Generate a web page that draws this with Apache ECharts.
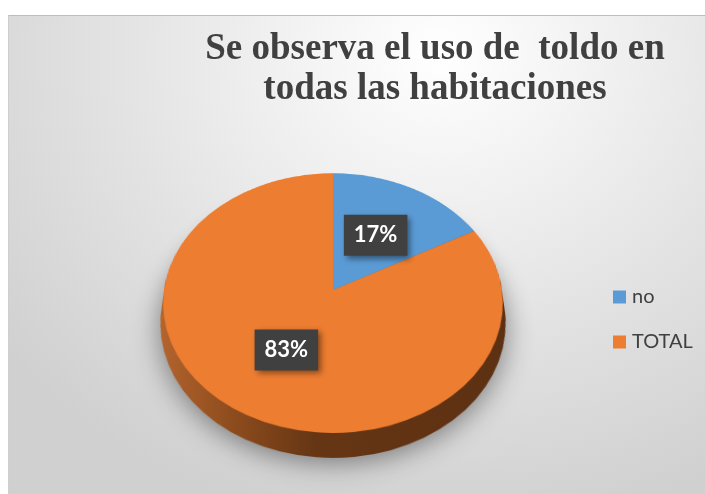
<!DOCTYPE html>
<html><head><meta charset="utf-8">
<script src="https://cdn.jsdelivr.net/npm/echarts@6/dist/echarts.min.js"></script>
<style>
html,body{margin:0;padding:0;width:705px;height:494px;overflow:hidden;background:#fff;}
#bg{position:absolute;left:8px;top:15px;width:697px;height:479px;box-sizing:border-box;border-top:1px solid #bdbdbd;border-left:1px solid #cfcfcf;
background:radial-gradient(ellipse 80% 100% at 62% 8%, #ffffff 0%, #f3f3f3 25%, #e2e2e2 60%, #d0d0d0 100%);}
#pie{position:absolute;left:0;top:0;width:705px;height:560px;transform-origin:333px 290px;transform:perspective(1083px) rotateX(40.5deg);}
#top{position:absolute;left:0;top:0;width:705px;height:494px;}
</style></head>
<body>
<div id="bg"></div>
<div id="pie"></div>
<div id="top"></div>
<script>
// ---- data ----
const titleLines = ['Se observa el uso de  toldo en', 'todas las habitaciones'];
const categories = ['no', 'TOTAL'];
const values = [17, 83];

// ---- styles / layout ----
const faceColors = ['#5B9BD5', '#ED7D31'];
const sideColors = [
  {type:'linear',x:0,y:0,x2:1,y2:0,colorStops:[{offset:0,color:'#3f6d96'},{offset:1,color:'#2b4a66'}]},
  {type:'linear',x:0,y:0,x2:1,y2:0,colorStops:[{offset:0,color:'#B5652E'},{offset:0.25,color:'#8A4A1C'},{offset:0.45,color:'#663614'},{offset:1,color:'#5C3012'}]}
];
const CX = 333, CY = 290, R = 169;
const PERSP = 1083, ANG = 40.5 * Math.PI / 180;
const COS = Math.cos(ANG), SIN = Math.sin(ANG);
const DEPTH_STEPS = 13, STEP = 2;

function pieData(colorsArr) {
  return categories.map((n, k) => ({ name: n, value: values[k], itemStyle: { color: colorsArr[k] } }));
}

// ---- tilted pie layer ----
const pieChart = echarts.init(document.getElementById('pie'), null, { renderer: 'canvas' });
const series = [];
for (let i = DEPTH_STEPS; i >= 1; i--) {
  series.push({
    type: 'pie', center: [CX, CY + i * STEP], radius: R, silent: true, animation: false,
    label: { show: false }, labelLine: { show: false },
    itemStyle: i === DEPTH_STEPS ? { shadowBlur: 26, shadowColor: 'rgba(0,0,0,0.42)', shadowOffsetY: 6 } : {},
    data: pieData(sideColors)
  });
}
series.push({
  type: 'pie', center: [CX, CY], radius: R, silent: true, animation: false,
  label: { show: false }, labelLine: { show: false },
  data: pieData(faceColors)
});
pieChart.setOption({ backgroundColor: 'transparent', series: series });

// ---- overlay layer: title, legend, labels ----
const topChart = echarts.init(document.getElementById('top'), null, { renderer: 'canvas' });
topChart.setOption({
  backgroundColor: 'transparent',
  title: {
    text: titleLines.join('\n'),
    left: 430, top: 24, textAlign: 'center',
    textStyle: { fontFamily: 'Liberation Serif', fontWeight: 'bold', fontSize: 37, lineHeight: 40, color: '#404040' }
  },
  legend: {
    orient: 'vertical', left: 608, top: 282,
    itemWidth: 13, itemHeight: 13, itemGap: 25,
    icon: 'rect',
    textStyle: { fontFamily: 'Lato', fontSize: 20, color: '#404040', padding: [0, 0, 0, 1] },
    data: categories.map((n, k) => ({ name: n, itemStyle: { color: faceColors[k] } }))
  },
  series: [{
    type: 'pie', center: [CX, CY], radius: R, silent: true, animation: false,
    itemStyle: { color: 'rgba(0,0,0,0)' },
    label: {
      show: true, position: 'inside', formatter: '{d}%',
      color: '#ffffff', fontFamily: 'Lato', fontWeight: 'bold', fontSize: 22, lineHeight: 24,
      backgroundColor: '#404040', padding: [9, 10, 8, 10],
      shadowColor: 'rgba(0,0,0,0.45)', shadowBlur: 6, shadowOffsetX: 3, shadowOffsetY: 3
    },
    labelLine: { show: false },
    labelLayout: function (p) {
      const r = p.labelRect;
      const lx = r.x + r.width / 2 - CX, ly = r.y + r.height / 2 - CY;
      const s = PERSP / (PERSP - ly * SIN);
      return { x: CX + lx * s, y: CY + ly * COS * s };
    },
    data: categories.map((n, k) => ({ name: n, value: values[k] }))
  }]
});
</script>
</body></html>
